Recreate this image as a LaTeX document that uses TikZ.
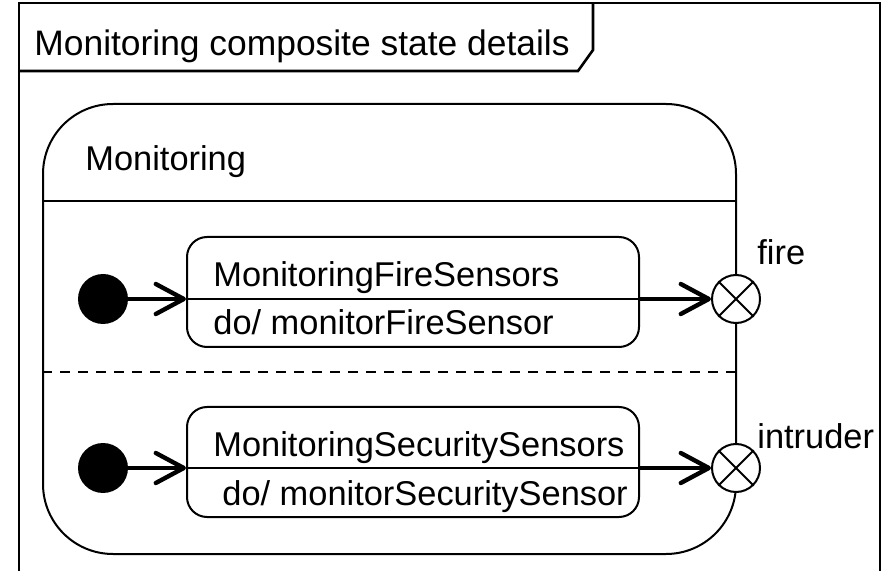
\documentclass[tikz,border=0pt]{standalone}
\usepackage{fontspec}
\setmainfont{Liberation Sans}
\usepackage{tikz}
\usetikzlibrary{arrows.meta,positioning,calc}

\begin{document}
\begin{tikzpicture}[x=0.5pt, y=0.5pt, yscale=-1, every node/.style={font=\fontsize{17.2}{20}\selectfont},
  region/.style={draw, line width=1pt, rounded corners=35pt, minimum width=346.5pt, minimum height=225pt, inner sep=0pt},
  simple/.style={draw, line width=1pt, rounded corners=10pt, minimum width=226pt, minimum height=55pt, inner sep=0pt},
  initial/.style={circle, fill=black, minimum size=25pt, inner sep=0pt},
  exitpt/.style={circle, draw, fill=white, line width=1pt, minimum size=24pt, inner sep=0pt},
  trans/.style={line width=2.2pt, line cap=round, -{Straight Barb[length=14pt, width=15pt, round]}},
  lbl/.style={anchor=base west, inner sep=0pt}]
\useasboundingbox (0,0) rectangle (883,571);
% frame and its name tab
\draw[line width=1.3pt] (19,600) -- (19,3) -- (880,3) -- (880,600);
\draw[line width=1.3pt] (19,71) -- (578,71) -- (593,50) -- (593,3);
\node[lbl, font=\fontsize{17.7}{20}\selectfont] (title) at (34,56) {Monitoring composite state details};
% composite state
\node[region] (monitoring) at (389.5,329) {};
\node[lbl] (monitoringName) at (85,171) {Monitoring};
\coordinate (headLine) at (0,201);
\coordinate (regionLine) at (0,372);
\draw[line width=1pt] (monitoring.west |- headLine) -- (monitoring.east |- headLine);
\draw[line width=1pt, dash pattern=on 5pt off 4pt] (monitoring.west |- regionLine) -- (monitoring.east |- regionLine);
% fire region
\node[simple] (fireBox) at (413,292) {};
\coordinate (fireDiv) at (0,299);
\draw[line width=1pt] (fireBox.west |- fireDiv) -- (fireBox.east |- fireDiv);
\node[lbl] (fireName) at (213,287) {MonitoringFireSensors};
\node[lbl] (fireDo) at (213,335) {do/ monitorFireSensor};
\node[initial] (fireInit) at (103,299) {};
\node[exitpt] (fireExit) at (736,299) {};
\draw[line width=1pt] (fireExit.45) -- (fireExit.225) (fireExit.135) -- (fireExit.315);
\node[lbl] (fireLbl) at (757,265) {fire};
\draw[trans] (fireInit) -- (fireInit -| fireBox.west);
\draw[trans] (fireBox.east |- fireExit) -- (fireExit);
% security region
\node[simple] (securityBox) at (413,462) {};
\coordinate (securityDiv) at (0,468);
\draw[line width=1pt] (securityBox.west |- securityDiv) -- (securityBox.east |- securityDiv);
\node[lbl] (securityName) at (213,457) {MonitoringSecuritySensors};
\node[lbl] (securityDo) at (222,505) {do/ monitorSecuritySensor};
\node[initial] (securityInit) at (103,468) {};
\node[exitpt] (intruderExit) at (736,468) {};
\draw[line width=1pt] (intruderExit.45) -- (intruderExit.225) (intruderExit.135) -- (intruderExit.315);
\node[lbl] (intruderLbl) at (757,448) {intruder};
\draw[trans] (securityInit) -- (securityInit -| securityBox.west);
\draw[trans] (securityBox.east |- intruderExit) -- (intruderExit);
\end{tikzpicture}
\end{document}
